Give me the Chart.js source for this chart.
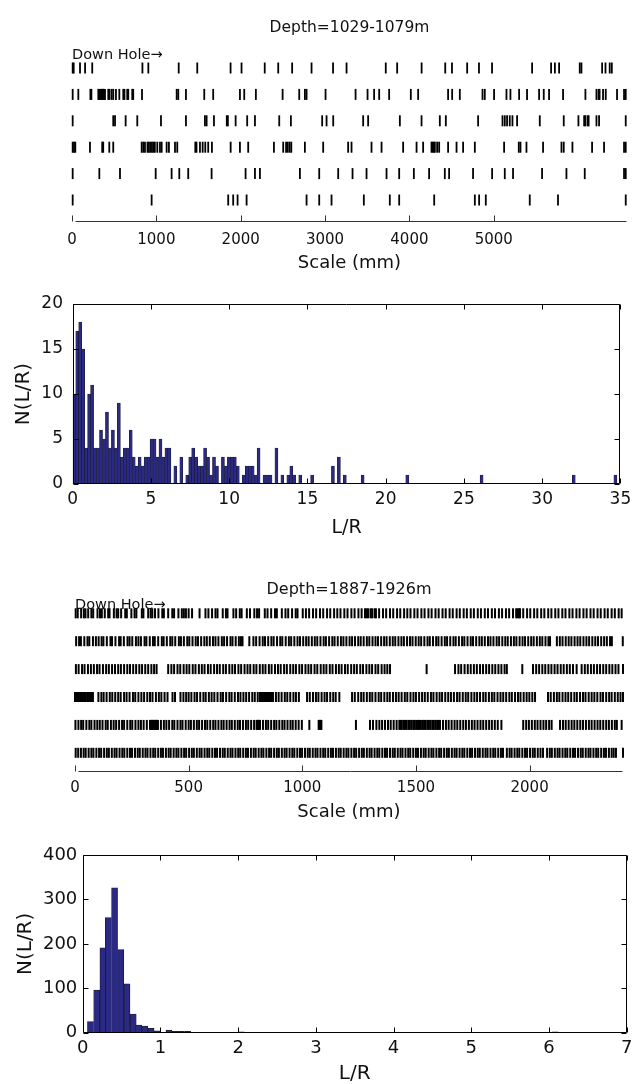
<!DOCTYPE html>
<html>
<head>
<meta charset="utf-8">
<script src="https://cdn.jsdelivr.net/npm/chart.js@4.4.0/dist/chart.umd.min.js"></script>
<style>
  html, body { margin: 0; padding: 0; background: #fff; }
  body { width: 637px; height: 1084px; position: relative; overflow: hidden; }
  canvas { position: absolute; left: 0; }
</style>
</head>
<body>
<canvas id="bars1" width="637" height="282" style="top:0px"></canvas>
<canvas id="hist1" width="637" height="258" style="top:282px"></canvas>
<canvas id="bars2" width="637" height="272" style="top:560px"></canvas>
<canvas id="hist2" width="637" height="252" style="top:832px"></canvas>
<script>
// fracture positions along the core (mm), one array per scan line, depth 1029-1079m
const shallowRow1 = [8, 20, 95, 155, 240, 835, 905, 1265, 1485, 1880, 2010, 2285, 2445, 2610, 2840, 3095, 3255, 3720, 3855, 4145, 4425, 4505, 4685, 4825, 4980, 5455, 5680, 5725, 5775, 6020, 6040, 6285, 6325, 6375, 6400];
const shallowRow2 = [8, 75, 218, 230, 312, 322, 332, 342, 352, 362, 372, 382, 391, 430, 445, 470, 489, 521, 561, 608, 622, 655, 667, 714, 726, 830, 1241, 1260, 1351, 1568, 1674, 1991, 2042, 2180, 2497, 2694, 2761, 2781, 3006, 3362, 3504, 3582, 3642, 3760, 4017, 4104, 4459, 4507, 4598, 4867, 4894, 5004, 5151, 5198, 5301, 5395, 5538, 5593, 5656, 5822, 6087, 6218, 6243, 6255, 6296, 6328, 6462, 6545, 6565];
const shallowRow3 = [8, 489, 510, 636, 774, 1055, 1351, 1576, 1596, 1683, 1835, 1848, 1940, 2077, 2169, 2457, 2595, 2966, 3018, 3097, 3452, 3511, 3887, 4144, 4361, 4432, 4815, 5104, 5131, 5158, 5190, 5222, 5277, 5546, 5830, 6004, 6072, 6085, 6112, 6125, 6218, 6249, 6565];
const shallowRow4 = [8, 24, 39, 213, 358, 370, 442, 489, 826, 845, 865, 895, 912, 930, 948, 965, 982, 1011, 1043, 1063, 1122, 1149, 1221, 1248, 1462, 1476, 1517, 1549, 1580, 1615, 1659, 1881, 1991, 2089, 2394, 2504, 2538, 2558, 2580, 2600, 2761, 2978, 3274, 3314, 3551, 3670, 3926, 4085, 4163, 4262, 4275, 4290, 4302, 4329, 4353, 4459, 4559, 4637, 4776, 5123, 5297, 5317, 5388, 5585, 5803, 5830, 5933, 6166, 6308, 6545, 6565];
const shallowRow5 = [8, 324, 569, 992, 1181, 1272, 1378, 1655, 2058, 2169, 2228, 2702, 2931, 3156, 3326, 3492, 3729, 3879, 4053, 4234, 4420, 4471, 4755, 4981, 5131, 5229, 5573, 5862, 6079, 6545, 6565];
const shallowRow6 = [8, 944, 1852, 1911, 1963, 2070, 2781, 2931, 3077, 3460, 3768, 3879, 4294, 4776, 4827, 4906, 5427, 5762, 6565];
const shallowTicks = [0, 1000, 2000, 3000, 4000, 5000];

// depth 1887-1926m
const deepRow1 = [3, 12, 27, 39, 46, 58, 72, 80, 99, 110, 118, 131, 146, 152, 171, 183, 190, 203, 221, 228, 248, 262, 270, 294, 301, 322, 333, 340, 352, 367, 384, 391, 410, 428, 436, 455, 470, 479, 488, 500, 515, 548, 574, 587, 603, 618, 627, 650, 664, 671, 697, 709, 725, 733, 756, 770, 789, 801, 810, 835, 847, 863, 880, 888, 910, 926, 938, 955, 971, 979, 1002, 1016, 1030, 1047, 1061, 1078, 1092, 1109, 1123, 1140, 1154, 1168, 1185, 1199, 1216, 1230, 1247, 1261, 1276, 1282, 1289, 1300, 1307, 1318, 1324, 1338, 1355, 1369, 1386, 1400, 1417, 1431, 1448, 1462, 1476, 1493, 1507, 1524, 1538, 1555, 1569, 1586, 1600, 1617, 1631, 1648, 1662, 1679, 1693, 1710, 1724, 1741, 1755, 1772, 1786, 1803, 1817, 1834, 1848, 1865, 1879, 1896, 1910, 1927, 1941, 1947, 1953, 1958, 1972, 1989, 2003, 2020, 2034, 2051, 2065, 2082, 2096, 2113, 2127, 2144, 2158, 2175, 2189, 2206, 2220, 2237, 2251, 2268, 2282, 2299, 2313, 2330, 2344, 2361, 2375, 2392, 2405];
const deepRow2 = [5, 18, 26, 41, 55, 63, 79, 92, 104, 117, 125, 140, 156, 163, 178, 194, 201, 215, 231, 240, 252, 268, 279, 290, 306, 314, 329, 343, 351, 366, 382, 390, 404, 419, 428, 441, 457, 466, 479, 494, 503, 517, 531, 541, 555, 569, 580, 593, 607, 618, 631, 646, 656, 669, 684, 693, 707, 721, 730, 737, 767, 785, 797, 812, 826, 836, 850, 864, 874, 889, 903, 912, 927, 941, 951, 965, 979, 990, 1004, 1017, 1028, 1042, 1055, 1066, 1080, 1094, 1104, 1118, 1132, 1142, 1156, 1170, 1181, 1194, 1208, 1219, 1232, 1246, 1257, 1270, 1284, 1295, 1309, 1322, 1333, 1347, 1360, 1371, 1385, 1398, 1409, 1423, 1436, 1447, 1461, 1474, 1485, 1499, 1512, 1523, 1537, 1551, 1561, 1575, 1589, 1599, 1613, 1627, 1637, 1651, 1665, 1675, 1689, 1703, 1713, 1727, 1741, 1751, 1765, 1779, 1790, 1803, 1817, 1828, 1841, 1855, 1866, 1880, 1893, 1904, 1918, 1931, 1942, 1956, 1969, 1980, 1994, 2007, 2018, 2032, 2045, 2056, 2070, 2083, 2090, 2120, 2133, 2145, 2159, 2172, 2184, 2198, 2211, 2223, 2237, 2250, 2262, 2276, 2289, 2301, 2315, 2328, 2340, 2354, 2362, 2410];
const deepRow3 = [4, 16, 31, 42, 57, 70, 83, 97, 108, 123, 137, 149, 163, 176, 190, 202, 216, 230, 242, 256, 269, 283, 295, 309, 322, 336, 348, 359, 410, 424, 436, 451, 463, 478, 491, 503, 518, 530, 545, 558, 570, 585, 597, 612, 625, 637, 652, 664, 679, 692, 704, 719, 731, 746, 759, 771, 786, 798, 813, 826, 838, 853, 865, 880, 893, 905, 920, 932, 947, 960, 972, 987, 999, 1014, 1027, 1039, 1054, 1066, 1081, 1094, 1106, 1121, 1133, 1148, 1161, 1173, 1188, 1200, 1215, 1228, 1240, 1255, 1267, 1282, 1295, 1307, 1322, 1334, 1349, 1362, 1374, 1386, 1547, 1672, 1687, 1699, 1714, 1728, 1741, 1755, 1768, 1782, 1795, 1809, 1822, 1836, 1849, 1863, 1876, 1890, 1900, 1968, 2015, 2029, 2042, 2056, 2069, 2083, 2096, 2110, 2123, 2137, 2150, 2164, 2177, 2191, 2207, 2229, 2243, 2256, 2270, 2283, 2297, 2310, 2324, 2337, 2351, 2364, 2378, 2391, 2411];
const deepRow4 = [0, 4, 8, 13, 17, 22, 26, 31, 35, 40, 44, 53, 57, 62, 66, 71, 75, 79, 103, 116, 126, 139, 153, 164, 177, 190, 201, 216, 227, 240, 255, 265, 279, 292, 304, 318, 330, 341, 356, 369, 380, 394, 407, 429, 440, 464, 477, 489, 500, 512, 526, 537, 551, 565, 575, 589, 601, 613, 627, 641, 651, 665, 679, 689, 703, 717, 728, 741, 753, 766, 780, 791, 804, 814, 818, 823, 827, 832, 836, 841, 845, 850, 854, 859, 863, 867, 871, 884, 896, 909, 923, 934, 947, 961, 972, 985, 1021, 1033, 1047, 1060, 1071, 1085, 1098, 1109, 1123, 1136, 1147, 1163, 1219, 1231, 1246, 1259, 1270, 1284, 1297, 1308, 1322, 1336, 1347, 1361, 1374, 1385, 1399, 1412, 1424, 1437, 1451, 1462, 1476, 1489, 1500, 1514, 1527, 1539, 1552, 1566, 1577, 1591, 1604, 1615, 1629, 1642, 1654, 1667, 1681, 1692, 1706, 1719, 1730, 1744, 1757, 1769, 1782, 1796, 1807, 1821, 1834, 1845, 1859, 1872, 1884, 1897, 1911, 1922, 1936, 1949, 1960, 1974, 1987, 1999, 2012, 2024, 2081, 2093, 2107, 2120, 2131, 2145, 2158, 2170, 2183, 2197, 2208, 2222, 2235, 2246, 2260, 2273, 2285, 2298, 2312, 2323, 2337, 2350, 2361, 2375, 2388, 2400, 2411];
const deepRow5 = [2, 15, 27, 36, 50, 63, 72, 86, 98, 109, 121, 135, 144, 158, 170, 181, 194, 207, 216, 230, 243, 252, 266, 279, 290, 302, 316, 330, 334, 339, 343, 348, 352, 357, 361, 365, 378, 391, 402, 414, 428, 437, 451, 464, 473, 487, 500, 510, 523, 536, 546, 559, 572, 582, 595, 608, 618, 631, 644, 654, 667, 680, 690, 703, 716, 726, 739, 752, 762, 775, 788, 799, 803, 807, 810, 814, 827, 840, 850, 863, 876, 886, 899, 912, 922, 935, 948, 958, 971, 984, 998, 1031, 1072, 1076, 1080, 1084, 1236, 1298, 1311, 1326, 1339, 1351, 1364, 1377, 1389, 1402, 1415, 1427, 1431, 1438, 1446, 1452, 1459, 1467, 1473, 1480, 1488, 1494, 1501, 1509, 1515, 1522, 1530, 1536, 1543, 1551, 1557, 1564, 1572, 1578, 1585, 1593, 1599, 1606, 1619, 1632, 1644, 1657, 1670, 1682, 1695, 1708, 1720, 1733, 1746, 1758, 1771, 1784, 1796, 1809, 1822, 1834, 1847, 1860, 1876, 1972, 1985, 1997, 2010, 2023, 2035, 2048, 2061, 2073, 2086, 2097, 2134, 2147, 2159, 2172, 2185, 2197, 2210, 2223, 2235, 2248, 2261, 2273, 2286, 2299, 2311, 2324, 2337, 2349, 2362, 2375, 2384, 2405];
const deepRow6 = [3, 14, 26, 38, 47, 60, 72, 81, 94, 106, 115, 128, 140, 149, 162, 174, 183, 196, 208, 217, 230, 242, 251, 264, 276, 285, 298, 310, 319, 332, 344, 353, 366, 378, 387, 400, 412, 421, 434, 446, 455, 468, 480, 489, 502, 514, 523, 536, 548, 557, 570, 582, 591, 604, 616, 625, 638, 650, 659, 672, 684, 693, 706, 718, 727, 740, 752, 761, 774, 786, 795, 808, 820, 829, 842, 854, 863, 876, 888, 897, 910, 922, 931, 944, 956, 965, 978, 990, 999, 1012, 1024, 1033, 1046, 1058, 1067, 1080, 1092, 1101, 1114, 1126, 1135, 1148, 1160, 1169, 1182, 1194, 1203, 1216, 1228, 1237, 1250, 1262, 1271, 1284, 1296, 1305, 1318, 1330, 1339, 1352, 1364, 1373, 1386, 1398, 1407, 1420, 1432, 1441, 1454, 1466, 1475, 1488, 1500, 1509, 1522, 1534, 1543, 1556, 1568, 1577, 1590, 1602, 1611, 1624, 1636, 1645, 1658, 1670, 1679, 1692, 1704, 1713, 1726, 1738, 1747, 1760, 1772, 1781, 1794, 1806, 1815, 1828, 1840, 1849, 1862, 1874, 1883, 1900, 1912, 1921, 1934, 1946, 1955, 1968, 1980, 1989, 2002, 2014, 2023, 2036, 2048, 2059, 2077, 2089, 2098, 2111, 2123, 2132, 2145, 2157, 2166, 2179, 2191, 2200, 2213, 2225, 2234, 2247, 2259, 2268, 2281, 2293, 2302, 2315, 2327, 2336, 2349, 2361, 2370, 2380, 2411];
const deepTicks = [0, 500, 1000, 1500, 2000];

// L/R histograms: bin centres and counts
const shallowLR = [0.10, 0.29, 0.48, 0.67, 0.86, 1.05, 1.24, 1.43, 1.62, 1.81, 2.00, 2.19, 2.38, 2.57, 2.76, 2.95, 3.14, 3.33, 3.52, 3.71, 3.90, 4.09, 4.28, 4.47, 4.66, 4.85, 5.04, 5.23, 5.42, 5.61, 5.80, 5.99, 6.18, 6.56, 6.94, 7.32, 7.51, 7.70, 7.89, 8.08, 8.27, 8.46, 8.65, 8.84, 9.03, 9.22, 9.60, 9.79, 9.98, 10.17, 10.36, 10.55, 10.93, 11.12, 11.31, 11.50, 11.69, 11.88, 12.26, 12.45, 12.64, 13.02, 13.40, 13.78, 13.97, 14.16, 14.54, 15.30, 16.63, 17.01, 17.39, 18.53, 21.38, 26.13, 32.02, 34.68];
const shallowCount = [10, 17, 18, 15, 4, 10, 11, 4, 4, 6, 5, 8, 4, 6, 4, 9, 3, 4, 4, 6, 3, 2, 3, 2, 3, 3, 5, 5, 3, 5, 3, 4, 4, 2, 3, 1, 3, 4, 3, 2, 2, 4, 3, 1, 3, 2, 3, 2, 3, 3, 3, 2, 1, 2, 2, 2, 1, 4, 1, 1, 1, 4, 1, 1, 2, 1, 1, 1, 2, 3, 1, 1, 1, 1, 1, 1];
const deepLR = [0.10, 0.18, 0.26, 0.33, 0.41, 0.49, 0.57, 0.65, 0.72, 0.80, 0.88, 0.96, 1.04, 1.11, 1.19, 1.27, 1.35, 1.43, 1.58, 1.66, 2.04, 2.27, 2.35, 2.58, 3.94, 5.00, 6.08, 6.33];
const deepCount = [25, 96, 191, 259, 326, 187, 110, 42, 17, 15, 10, 4, 1, 6, 3, 3, 3, 1, 1, 1, 2, 1, 1, 1, 1, 1, 2, 1];

const FONT = "'DejaVu Sans', sans-serif";
Chart.defaults.font.family = FONT;
Chart.defaults.color = '#111';

// matlab style frame: box with inward ticks, or a bare baseline with up ticks
const framePlugin = {
    id: 'frame',
    afterDatasetsDraw(chart, args, opts) {
        if (!opts || !opts.mode) return;
        const { ctx, chartArea: a, scales } = chart;
        const L = Math.round(a.left) + 0.5, R = Math.round(a.right) - 0.5;
        const T = Math.round(a.top) + 0.5, B = Math.round(a.bottom) - 0.5;
        ctx.save();
        ctx.strokeStyle = opts.color || '#000';
        ctx.lineWidth = 1;
        ctx.beginPath();
        if (opts.mode === 'box') {
            ctx.rect(L, T, R - L, B - T);
            scales.x.ticks.forEach(t => {
                const px = Math.round(scales.x.getPixelForValue(t.value)) + 0.5;
                ctx.moveTo(px, B); ctx.lineTo(px, B - opts.len);
                ctx.moveTo(px, T); ctx.lineTo(px, T + opts.len);
            });
            scales.y.ticks.forEach(t => {
                const py = Math.round(scales.y.getPixelForValue(t.value)) + 0.5;
                ctx.moveTo(L, py); ctx.lineTo(L + opts.len, py);
                ctx.moveTo(R, py); ctx.lineTo(R - opts.len, py);
            });
        } else {
            ctx.moveTo(L + 3, B); ctx.lineTo(R, B);
            scales.x.ticks.forEach(t => {
                const px = Math.round(scales.x.getPixelForValue(t.value)) + 0.5;
                ctx.moveTo(px, B); ctx.lineTo(px, B - opts.len);
            });
        }
        ctx.stroke();
        ctx.restore();
    }
};
Chart.register(framePlugin);

function barcodeChart(id, rows, tickValues, cfg) {
    return new Chart(document.getElementById(id), {
        type: 'scatter',
        data: {
            datasets: rows.map((row, i) => ({
                data: row.map(x => ({ x: x, y: i + 1 })),
                pointStyle: 'line',
                pointRotation: 90,
                pointRadius: cfg.half,
                pointBorderWidth: cfg.lw,
                pointBorderColor: '#000',
                pointBackgroundColor: '#000',
                clip: false
            }))
        },
        options: {
            responsive: false,
            animation: false,
            events: [],
            devicePixelRatio: 1,
            layout: { padding: { left: cfg.left, right: cfg.right, top: 0, bottom: 0 } },
            plugins: {
                legend: { display: false },
                tooltip: { enabled: false },
                title: {
                    display: true, text: cfg.title, fullSize: false, color: '#111',
                    font: { size: cfg.titleSize, weight: 'normal', lineHeight: 1 },
                    padding: { top: cfg.titlePad, bottom: 0 }
                },
                subtitle: {
                    display: true, text: 'Down Hole\u2192', align: 'start', fullSize: false, color: '#111',
                    font: { size: 14.5, lineHeight: 1 },
                    padding: { top: cfg.subPad, bottom: 0 }
                },
                frame: { mode: 'baseline', len: 6, color: '#333' }
            },
            scales: {
                x: {
                    type: 'linear', min: 0, max: cfg.xMax,
                    grid: { display: false, drawTicks: false }, border: { display: false },
                    ticks: {
                        font: { size: 15, lineHeight: 1.2 }, padding: cfg.tickPad,
                        maxRotation: 0, autoSkip: false, color: '#111',
                        callback: v => String(v)
                    },
                    afterBuildTicks: s => { s.ticks = tickValues.map(v => ({ value: v })); },
                    title: {
                        display: true, text: 'Scale (mm)', color: '#111',
                        font: { size: 18, lineHeight: 1.2 }, padding: { top: 0, bottom: cfg.titleBottom }
                    },
                    afterFit: s => { s.height = cfg.xHeight; }
                },
                y: { display: false, reverse: true, min: cfg.yMin, max: cfg.yMax }
            }
        }
    });
}

function histChart(id, lr, counts, cfg) {
    return new Chart(document.getElementById(id), {
        type: 'bar',
        data: {
            datasets: [{
                data: lr.map((x, i) => ({ x: x, y: counts[i] })),
                backgroundColor: '#2a2a86',
                borderColor: '#1a1a24',
                borderWidth: cfg.bw,
                borderSkipped: 'start',
                barThickness: cfg.barPx
            }]
        },
        options: {
            responsive: false,
            animation: false,
            events: [],
            devicePixelRatio: 1,
            layout: { padding: { left: 0, right: cfg.right, top: cfg.top, bottom: 0 } },
            plugins: {
                legend: { display: false },
                tooltip: { enabled: false },
                frame: { mode: 'box', len: 5, color: '#000' }
            },
            scales: {
                x: {
                    type: 'linear', min: 0, max: cfg.xMax, offset: false,
                    grid: { display: false, drawTicks: false }, border: { display: false },
                    ticks: {
                        stepSize: cfg.xStep, font: { size: cfg.tickSize, lineHeight: 1.2 }, padding: cfg.xTickPad,
                        maxRotation: 0, autoSkip: false, color: '#111', callback: v => String(v)
                    },
                    title: {
                        display: true, text: 'L/R', color: '#111',
                        font: { size: cfg.xTitleSize, lineHeight: cfg.xTitleLh }, padding: { top: 0, bottom: cfg.xTitlePad }
                    },
                    afterFit: s => { s.height = cfg.xHeight; }
                },
                y: {
                    min: 0, max: cfg.yMax,
                    grid: { display: false, drawTicks: false }, border: { display: false },
                    ticks: {
                        stepSize: cfg.yStep, font: { size: cfg.tickSize, lineHeight: 1.2 }, padding: cfg.yTickPad,
                        color: '#111', callback: v => String(v)
                    },
                    title: {
                        display: true, text: 'N(L/R)', color: '#111',
                        font: { size: 20, lineHeight: 1.2 }, padding: { top: cfg.yTitlePad, bottom: 0 }
                    },
                    afterFit: s => { s.width = cfg.yWidth; }
                }
            }
        }
    });
}

barcodeChart('bars1', [shallowRow1, shallowRow2, shallowRow3, shallowRow4, shallowRow5, shallowRow6], shallowTicks, {
    title: 'Depth=1029-1079m', titleSize: 15.5, titlePad: 20.25, subPad: 12.5,
    left: 72, right: 10, xMax: 6580,
    tickPad: 9, titleBottom: 8.2, xHeight: 60,
    yMin: 0.801, yMax: 6.833, half: 5.5, lw: 1.8
});

histChart('hist1', shallowLR, shallowCount, {
    top: 22, right: 12, xMax: 35, xStep: 5, yMax: 20, yStep: 5,
    tickSize: 17, xTickPad: 5.8, yTickPad: 9.7,
    xTitleSize: 19, xTitleLh: 1.2, xTitlePad: 0.6, yTitlePad: 12,
    xHeight: 56, yWidth: 72.7, barPx: 3, bw: 0.6
});

barcodeChart('bars2', [deepRow1, deepRow2, deepRow3, deepRow4, deepRow5, deepRow6], deepTicks, {
    title: 'Depth=1887-1926m', titleSize: 16, titlePad: 22, subPad: 0,
    left: 75, right: 14, xMax: 2411,
    tickPad: 7, titleBottom: 9.2, xHeight: 60,
    yMin: 0.971, yMax: 6.688, half: 5, lw: 2
});

histChart('hist2', deepLR, deepCount, {
    top: 23, right: 8, xMax: 7, xStep: 1, yMax: 400, yStep: 100,
    tickSize: 18, xTickPad: 4.5, yTickPad: 5.4,
    xTitleSize: 20, xTitleLh: 1, xTitlePad: 0, yTitlePad: 14,
    xHeight: 51.3, yWidth: 82.7, barPx: 6, bw: 0.8
});
</script>
</body>
</html>
